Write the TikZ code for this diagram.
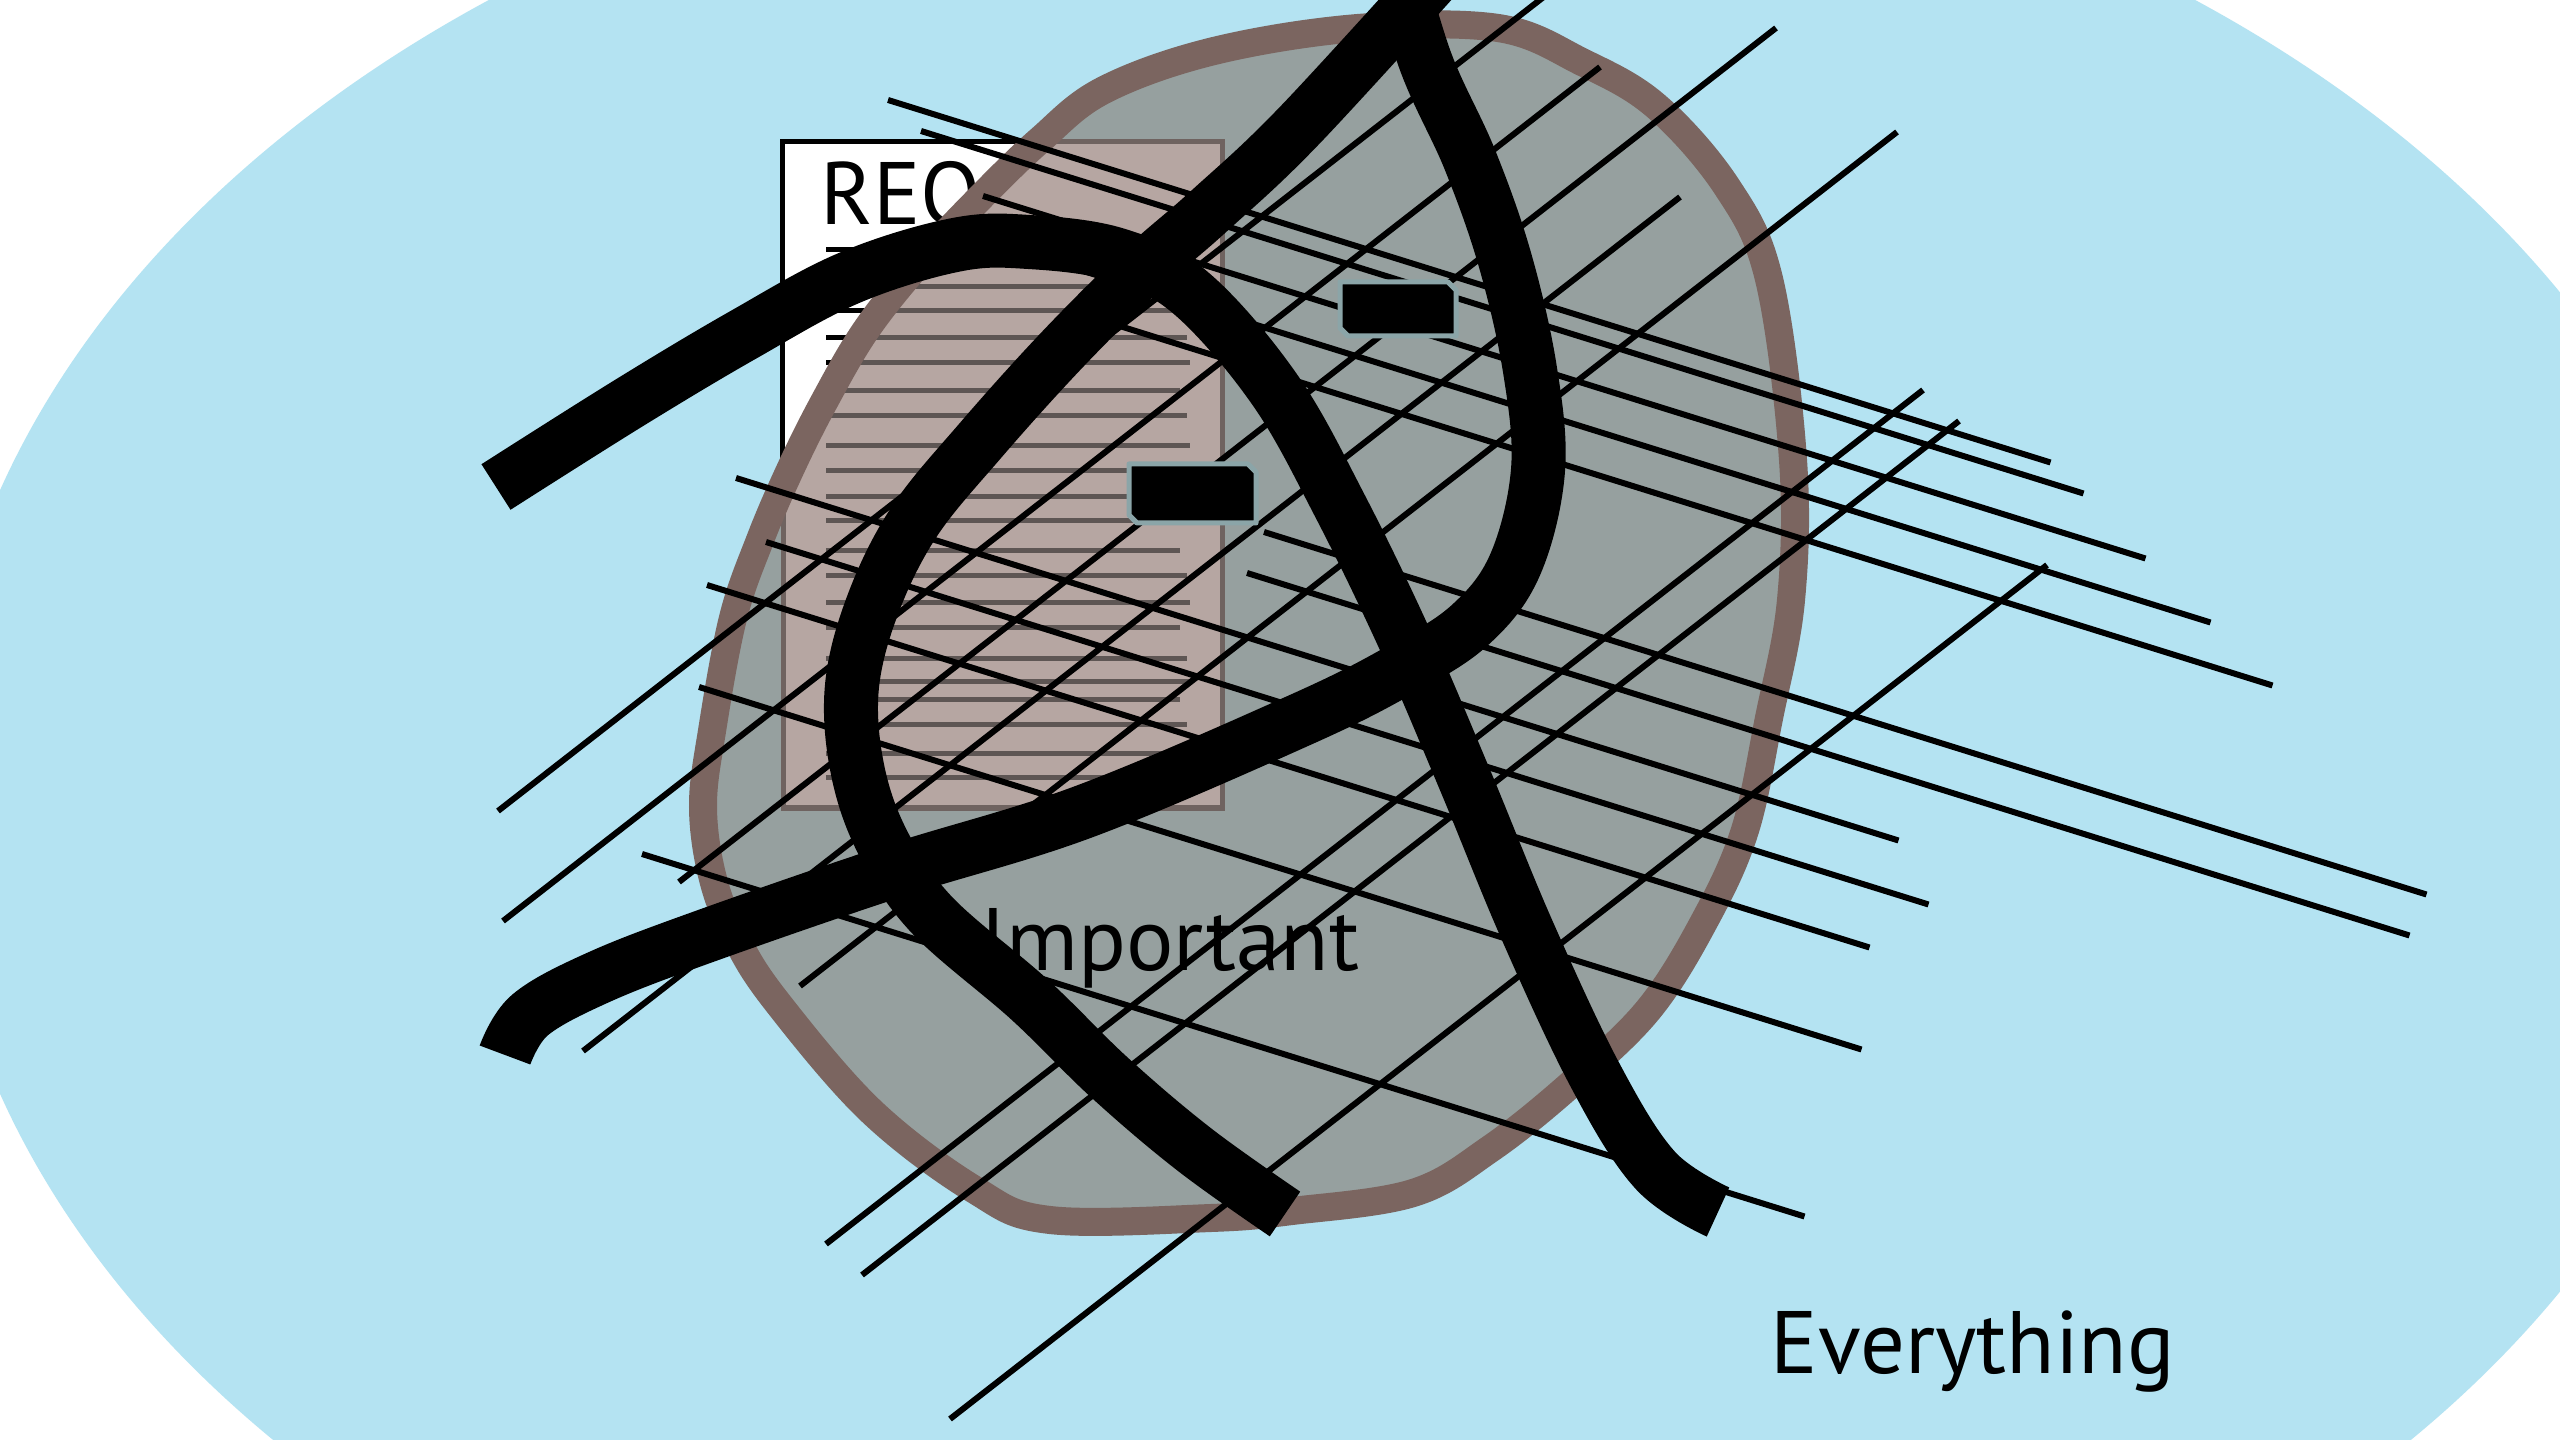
\documentclass[tikz,border=0pt]{standalone}
\usepackage{fontspec}
\setmainfont{PT Sans}
\definecolor{skyblue}{RGB}{180,227,242}
\definecolor{blobgray}{RGB}{150,160,159}
\definecolor{blobrim}{RGB}{123,101,96}
\definecolor{docpink}{RGB}{182,166,162}
\definecolor{docrim}{RGB}{111,99,96}
\definecolor{docink}{RGB}{94,86,84}
\definecolor{tagrim}{RGB}{139,165,168}
\begin{document}
\begin{tikzpicture}[x=0.01cm,y=-0.01cm,
  thinline/.style={line width=0.06cm, black, line cap=butt},
  brush/.style={line width=0.54cm, black, line cap=butt, line join=round},
  docline/.style={line width=0.05cm, line cap=butt},
  lbl/.style={inner sep=0pt, anchor=base west, font=\fontsize{25.2}{30}\selectfont, text=black},
  tag/.style={fill=black, draw=tagrim, line width=0.05cm, line join=round}
]
\def\blobpath{plot[smooth cycle, tension=0.6] coordinates {
 (1358,28) (1498,28) (1582,62) (1656,106) (1727,187) (1769,279) (1793,460)
 (1791,600) (1769,718) (1745,830) (1706,918) (1649,1009) (1570,1085)
 (1490,1149) (1413,1193) (1292,1211) (1211,1218) (1050,1220) (975,1190)
 (871,1111) (777,1002) (737,940) (713,879) (703,807) (712,731) (733,618)
 (760,540) (790,470) (824,402) (866,330) (920,262) (978,200) (1040,140)
 (1104,90) (1214,51)}}
\def\doclines{250,287,311,338,363,391,416,446,471,497,521,551,576,603,628,659,682,700,725,754,778}
% canvas
\useasboundingbox (0,0) rectangle (2560,1440);
\clip (0,0) rectangle (2560,1440);
\fill[white] (0,0) rectangle (2560,1440);
\fill[skyblue] (1342,792) ellipse [x radius=14.07cm, y radius=9.95cm];
% document (outside the blob)
\node[draw=black, fill=white, line width=0.05cm, minimum width=4.39cm, minimum height=6.66cm, inner sep=0pt] (doc) at (1002.5,475) {};
\foreach \yy [count=\i] in \doclines {
  \pgfmathsetmacro{\rr}{mod(\i,3)==0 ? 1180 : (mod(\i,3)==1 ? 1187 : 1190)}
  \draw[docline, black] (826,\yy) -- (\rr,\yy);
}
\node[lbl] (req) at (820,225) {REQ};
% blob
\fill[blobgray] \blobpath;
\begin{scope}
  \clip \blobpath;
  \draw[fill=docpink, draw=docrim, line width=0.05cm] (783,142) rectangle (1222,808);
  \foreach \yy [count=\i] in \doclines {
    \pgfmathsetmacro{\rr}{mod(\i,3)==0 ? 1180 : (mod(\i,3)==1 ? 1187 : 1190)}
    \draw[docline, docink] (826,\yy) -- (\rr,\yy);
  }
\end{scope}
\draw[blobrim, line width=0.28cm] \blobpath;
% labels
\node[lbl] (important) at (980,970) {Important};
\node[lbl] (everything) at (1770,1373) {Everything};
% thin lines, NW-SE family
\foreach \p in {(888,100),(921,131),(983,196),(1048,260),(1110,323),(736,478),(766,542),(707,585),(699,687),(642,854),(1264,532),(1247,573)}
  \draw[thinline] \p -- ++(1162.5,362.5);
% thin lines, SW-NE family
\foreach \p in {(498,811),(503,921),(583,1051),(800,986),(679,882),(826,1244),(862,1275),(950,1419)}
  \draw[thinline] \p -- ++(1097,-854);
% brush strokes
\draw[brush] plot[smooth, tension=0.6] coordinates {(496,487) (629,403) (743,335) (849,278) (955,245) (1029,242) (1118,255) (1192,294) (1275,390) (1340,506) (1405,640) (1465,780) (1527,930) (1595,1075) (1655,1170) (1718,1212)};
\draw[brush] plot[smooth, tension=0.6] coordinates {(1390,-60) (1425,60) (1470,160) (1505,260) (1530,370) (1538,470) (1515,565) (1470,625) (1400,670) (1300,720) (1083,812) (891,872) (700,938) (597,978) (530,1015) (505,1055)};
\draw[brush] plot[smooth, tension=0.6] coordinates {(1460,-50) (1300,125) (1208,212) (1143,269) (1061,351) (980,441) (914,522) (873,604) (852,686) (857,767) (882,841) (931,914) (1030,1000) (1110,1078) (1195,1150) (1285,1214)};
% small tags
\draw[tag] (1129,464) -- (1248,464) -- (1256,472) -- (1256,523) -- (1137,523) -- (1129,515) -- cycle;
\draw[tag] (1340,282) -- (1448,282) -- (1456,290) -- (1456,336) -- (1348,336) -- (1340,328) -- cycle;
\end{tikzpicture}
\end{document}
